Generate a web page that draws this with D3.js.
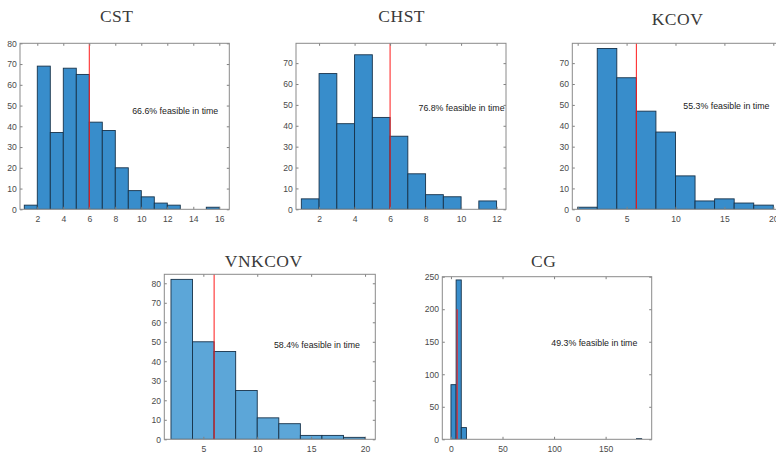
<!DOCTYPE html>
<html>
<head>
<meta charset="utf-8">
<script src="https://cdn.jsdelivr.net/npm/d3@7"></script>
<style>
  html, body { margin: 0; padding: 0; background: #fff; }
  svg { display: block; }
  .tick text { font-family: "Liberation Sans", Arial, sans-serif; font-size: 8.6px; fill: #4a4a4a; }
  .tick line { stroke: #808080; }
</style>
</head>
<body>
<svg id="chart" width="776" height="453"></svg>
<script>
// ---- data: solve-time histograms per method (bin edges and counts) ----
const titles = ["CST", "CHST", "KCOV", "VNKCOV", "CG"];

const cstEdges  = [1, 2, 3, 4, 5, 6, 7, 8, 9, 10, 11, 12, 13, 14, 15, 16];
const cstCounts = [2, 69, 37, 68, 65, 42, 38, 20, 9, 6, 3, 2, 0, 0, 1];

const chstEdges  = [1, 2, 3, 4, 5, 6, 7, 8, 9, 10, 11, 12];
const chstCounts = [5, 65, 41, 74, 44, 35, 17, 7, 6, 0, 4];

const kcovEdges  = [0, 2, 4, 6, 8, 10, 12, 14, 16, 18, 20];
const kcovCounts = [1, 77, 63, 47, 37, 16, 4, 5, 3, 2];

const vnkcovEdges  = [2, 4, 6, 8, 10, 12, 14, 16, 18, 20];
const vnkcovCounts = [82, 50, 45, 25, 11, 8, 2, 2, 1];

const cgEdges  = [0, 5, 10, 15, 20, 25, 30, 35, 40, 45, 50, 55, 60, 65, 70, 75, 80, 85, 90,
                  95, 100, 105, 110, 115, 120, 125, 130, 135, 140, 145, 150, 155, 160, 165,
                  170, 175, 180, 185];
const cgCounts = [84, 245, 18, 0, 0, 0, 0, 0, 0, 0, 0, 0, 0, 0, 0, 0, 0, 0, 0,
                  0, 0, 0, 0, 0, 0, 0, 0, 0, 0, 0, 0, 0, 0, 0, 0, 0, 1];

const feasibleLabels = ["66.6% feasible in time", "76.8% feasible in time",
                        "55.3% feasible in time", "58.4% feasible in time",
                        "49.3% feasible in time"];

// time limit marker (drawn from 0 up to deadlineTop)
const deadline = 6;
const deadlineTop = 200;

// tick labels
const cstXTicks = [2, 4, 6, 8, 10, 12, 14, 16];
const cstYTicks = [0, 10, 20, 30, 40, 50, 60, 70, 80];
const chstXTicks = [2, 4, 6, 8, 10, 12];
const chstYTicks = [0, 10, 20, 30, 40, 50, 60, 70];
const kcovXTicks = [0, 5, 10, 15, 20];
const kcovYTicks = [0, 10, 20, 30, 40, 50, 60, 70];
const vnkcovXTicks = [5, 10, 15, 20];
const vnkcovYTicks = [0, 10, 20, 30, 40, 50, 60, 70, 80];
const cgXTicks = [0, 50, 100, 150];
const cgYTicks = [0, 50, 100, 150, 200, 250];

// annotation anchor in data units (left edge, vertical middle)
const labelX = [9.3, 7.6, 10.8, 11.55, 97.3];
const labelY = [47.5, 48.6, 49.4, 48.2, 148.6];

// ---- layout ----
const panels = [
  { edges: cstEdges, counts: cstCounts, xTicks: cstXTicks, yTicks: cstYTicks,
    box: [20, 43.3, 209.3, 166], xDom: [0.67, 16.77], yDom: [0, 80],
    fill: "#388dcb", title: [116.7, 21.7] },
  { edges: chstEdges, counts: chstCounts, xTicks: chstXTicks, yTicks: chstYTicks,
    box: [296, 43.3, 210, 166], xDom: [0.7, 12.53], yDom: [0, 79.5],
    fill: "#388dcb", title: [401.7, 22] },
  { edges: kcovEdges, counts: kcovCounts, xTicks: kcovXTicks, yTicks: kcovYTicks,
    box: [572.3, 43.3, 210, 166], xDom: [-0.55, 20.92], yDom: [0, 79.5],
    fill: "#388dcb", title: [677.5, 25] },
  { edges: vnkcovEdges, counts: vnkcovCounts, xTicks: vnkcovXTicks, yTicks: vnkcovYTicks,
    box: [164.3, 274.3, 211, 165], xDom: [1.38, 20.95], yDom: [0, 84.6],
    fill: "#5ca6d8", title: [263.7, 266.7] },
  { edges: cgEdges, counts: cgCounts, xTicks: cgXTicks, yTicks: cgYTicks,
    box: [442.3, 276.7, 209.4, 162.6], xDom: [-8.4, 194.7], yDom: [0, 250],
    fill: "#388dcb", title: [543.7, 266.7] }
];

const svg = d3.select("#chart");

panels.forEach((p, i) => {
  const [left, top, w, h] = p.box;
  const x = d3.scaleLinear().domain(p.xDom).range([0, w]);
  const y = d3.scaleLinear().domain(p.yDom).range([h, 0]);

  // title
  svg.append("text")
    .attr("x", p.title[0]).attr("y", p.title[1])
    .attr("text-anchor", "middle")
    .style("font-family", "'Liberation Serif', 'Times New Roman', serif")
    .style("font-size", "17.5px")
    .style("letter-spacing", "0.5px")
    .style("fill", "#3a3a3a")
    .text(titles[i]);

  const g = svg.append("g").attr("transform", `translate(${left},${top})`);

  const clipId = "clip" + i;
  g.append("clipPath").attr("id", clipId)
    .append("rect").attr("x", 0).attr("y", 0).attr("width", w).attr("height", h);

  const plot = g.append("g").attr("clip-path", `url(#${clipId})`);

  const bins = p.counts.map((c, k) => ({ x0: p.edges[k], x1: p.edges[k + 1], n: c }));

  plot.selectAll("rect.bar").data(bins).enter().append("rect")
    .attr("class", "bar")
    .attr("x", d => x(d.x0))
    .attr("width", d => x(d.x1) - x(d.x0))
    .attr("y", d => y(d.n))
    .attr("height", d => y(0) - y(d.n))
    .attr("fill", p.fill)
    .attr("stroke", "#17324a")
    .attr("stroke-width", 0.9);

  // time limit line
  plot.append("line")
    .attr("x1", x(deadline)).attr("x2", x(deadline))
    .attr("y1", y(0)).attr("y2", y(deadlineTop))
    .attr("stroke", "#ff1a1a")
    .attr("stroke-width", 1);

  // annotation
  g.append("text")
    .attr("x", x(labelX[i])).attr("y", y(labelY[i]))
    .attr("dy", "0.35em")
    .style("font-family", "'Liberation Sans', Arial, sans-serif")
    .style("font-size", "8.8px")
    .style("fill", "#222")
    .text(feasibleLabels[i]);

  // axes with inward ticks, mirrored on top and right
  const tl = 2.5;
  const xb = g.append("g").attr("transform", `translate(0,${h})`)
    .call(d3.axisBottom(x).tickValues(p.xTicks).tickFormat(d3.format("d"))
      .tickSizeInner(-tl).tickSizeOuter(0).tickPadding(6.4));
  const xt = g.append("g")
    .call(d3.axisTop(x).tickValues(p.xTicks).tickFormat("")
      .tickSizeInner(-tl).tickSizeOuter(0));
  const yl = g.append("g")
    .call(d3.axisLeft(y).tickValues(p.yTicks).tickFormat(d3.format("d"))
      .tickSizeInner(-tl).tickSizeOuter(0).tickPadding(3.3));
  const yr = g.append("g").attr("transform", `translate(${w},0)`)
    .call(d3.axisRight(y).tickValues(p.yTicks).tickFormat("")
      .tickSizeInner(-tl).tickSizeOuter(0));
  [xb, xt, yl, yr].forEach(a => a.select(".domain").remove());

  // axes box
  g.append("rect")
    .attr("x", 0).attr("y", 0).attr("width", w).attr("height", h)
    .attr("fill", "none")
    .attr("stroke", "#8a8a8a")
    .attr("stroke-width", 1);
});
</script>
</body>
</html>
